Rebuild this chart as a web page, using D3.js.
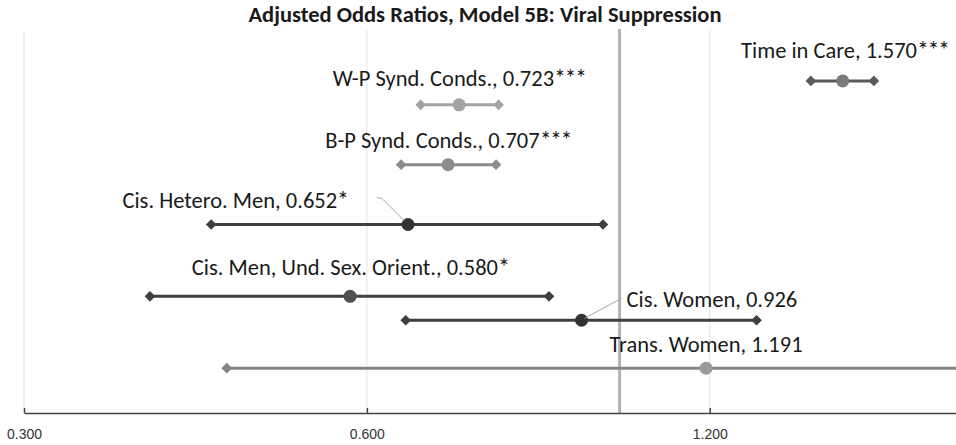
<!DOCTYPE html>
<html>
<head>
<meta charset="utf-8">
<script src="https://cdn.jsdelivr.net/npm/d3@7"></script>
<style>
  body { margin: 0; background: #fff; }
  svg { display: block; font-family: Carlito, Calibri, Lato, sans-serif; }
  .title { font-weight: bold; font-size: 22.5px; fill: #1a1a1a; }
  .label { font-size: 22.5px; fill: #1a1a1a; }
  .stars { letter-spacing: -1.5px; font-size: 24px; }
  .tick text { font-size: 14px; fill: #333; }
</style>
</head>
<body>
<svg width="956" height="445"></svg>
<script>
// values
const names = ['Time in Care', 'W-P Synd. Conds.', 'B-P Synd. Conds.', 'Cis. Hetero. Men',
  'Cis. Men, Und. Sex. Orient.', 'Cis. Women', 'Trans. Women'];
const odds = [1.570, 0.723, 0.707, 0.652, 0.580, 0.926, 1.191];
const stars = ['***', '***', '***', '*', '*', '', ''];
const lower = [1.472, 0.669, 0.643, 0.438, 0.387, 0.649, 0.452];
const upper = [1.672, 0.783, 0.779, 0.967, 0.867, 1.319, 3.1];
const rowY = [7, 6.5, 5.25, 4, 2.5, 2, 1];
const tickValues = [0.3, 0.6, 1.2];
const refValue = 1;

// colours of each series
const lineColor = ['#5a5a5a', '#a3a3a3', '#8c8c8c', '#3f3f3f', '#3f3f3f', '#3f3f3f', '#858585'];
const dotColor = ['#7a7a7a', '#a3a3a3', '#8c8c8c', '#333', '#505050', '#333', '#9a9a9a'];

(function () {
  const svg = d3.select('svg');
  const width = +svg.attr('width');
  const height = +svg.attr('height');
  const margin = { top: 30, right: 0, bottom: 32, left: 24 };

  const xScale = d3.scaleLog()
    .base(2)
    .domain([0.3, 1.974])
    .range([margin.left, width - margin.right]);

  const yScale = d3.scaleLinear()
    .domain([0, 8])
    .range([416, 33]);

  const g = svg.append('g');

  svg.append('defs').append('clipPath').attr('id', 'clip')
    .append('rect')
    .attr('x', margin.left).attr('y', 0)
    .attr('width', width - margin.left).attr('height', height);

  // gridlines
  g.selectAll('.grid').data(tickValues)
    .enter().append('line')
    .attr('x1', d => xScale(d)).attr('x2', d => xScale(d))
    .attr('y1', margin.top).attr('y2', height - margin.bottom)
    .attr('stroke', '#e3e3e3')
    .attr('stroke-width', 1);

  // reference line at 1
  g.append('line')
    .attr('x1', xScale(refValue)).attr('x2', xScale(refValue))
    .attr('y1', margin.top - 1).attr('y2', height - margin.bottom)
    .attr('stroke', '#b3b3b3')
    .attr('stroke-width', 3);

  const xAxis = d3.axisBottom(xScale)
    .tickValues(tickValues)
    .tickFormat(d3.format('.3f'))
    .tickSize(5)
    .tickSizeOuter(0);

  const xAxisG = g.append('g')
    .attr('transform', `translate(0,${height - margin.bottom})`)
    .call(xAxis);
  xAxisG.select('.domain').attr('stroke', '#444').attr('stroke-width', 1.5);
  xAxisG.selectAll('.tick line').attr('stroke', '#444').attr('stroke-width', 1.5).attr('transform', 'translate(0,-5)');
  xAxisG.selectAll('.tick text').attr('dy', '1.3em');

  const rows = names.map((n, i) => ({
    name: n, odds: odds[i], lo: lower[i], hi: upper[i], y: rowY[i], i
  }));

  const marks = g.append('g').attr('clip-path', 'url(#clip)');

  marks.selectAll('.ci').data(rows)
    .enter().append('line')
    .attr('x1', d => xScale(d.lo)).attr('x2', d => xScale(d.hi))
    .attr('y1', d => yScale(d.y)).attr('y2', d => yScale(d.y))
    .attr('stroke', d => lineColor[d.i])
    .attr('stroke-width', 3);

  const diamond = d3.symbol().type(d3.symbolDiamond2).size(72);
  rows.forEach(d => {
    [d.lo, d.hi].forEach(v => {
      marks.append('path')
        .attr('d', diamond)
        .attr('transform', `translate(${xScale(v)},${yScale(d.y)})`)
        .attr('fill', lineColor[d.i]);
    });
  });

  marks.selectAll('.dot').data(rows)
    .enter().append('circle')
    .attr('cx', d => xScale(d.odds))
    .attr('cy', d => yScale(d.y))
    .attr('r', 6.5)
    .attr('fill', d => dotColor[d.i]);

  // label placement relative to the point (dx, dy, anchor)
  const labelPlace = [
    [2, -23, 'middle'], [0, -19, 'middle'], [0, -17, 'middle'], [-173, -17, 'middle'],
    [0, -21, 'middle'], [45, -13, 'start'], [0, -16, 'middle']
  ];

  const labels = g.selectAll('.label').data(rows)
    .enter().append('text')
    .attr('class', 'label')
    .attr('x', d => xScale(d.odds) + labelPlace[d.i][0])
    .attr('y', d => yScale(d.y) + labelPlace[d.i][1])
    .attr('text-anchor', d => labelPlace[d.i][2]);
  labels.append('tspan')
    .text(d => `${d.name}, ${d3.format('.3f')(d.odds)}`);
  labels.append('tspan')
    .attr('class', 'stars')
    .text(d => stars[d.i]);

  // leader lines
  const hm = rows[3];
  g.append('polyline')
    .attr('points', [
      [xScale(hm.odds) - 31, yScale(hm.y) - 27],
      [xScale(hm.odds) - 26, yScale(hm.y) - 26],
      [xScale(hm.odds) - 4, yScale(hm.y) - 4]
    ].join(' '))
    .attr('fill', 'none').attr('stroke', '#a6a6a6').attr('stroke-width', 1);

  const cw = rows[5];
  g.append('line')
    .attr('x1', xScale(cw.odds) + 3).attr('y1', yScale(cw.y) - 2)
    .attr('x2', xScale(cw.odds) + 40).attr('y2', yScale(cw.y) - 22)
    .attr('stroke', '#a6a6a6').attr('stroke-width', 1);

  svg.append('text')
    .attr('class', 'title')
    .attr('x', (margin.left + width) / 2 - 5)
    .attr('y', 22)
    .attr('text-anchor', 'middle')
    .text('Adjusted Odds Ratios, Model 5B: Viral Suppression');
}());
</script>
</body>
</html>
